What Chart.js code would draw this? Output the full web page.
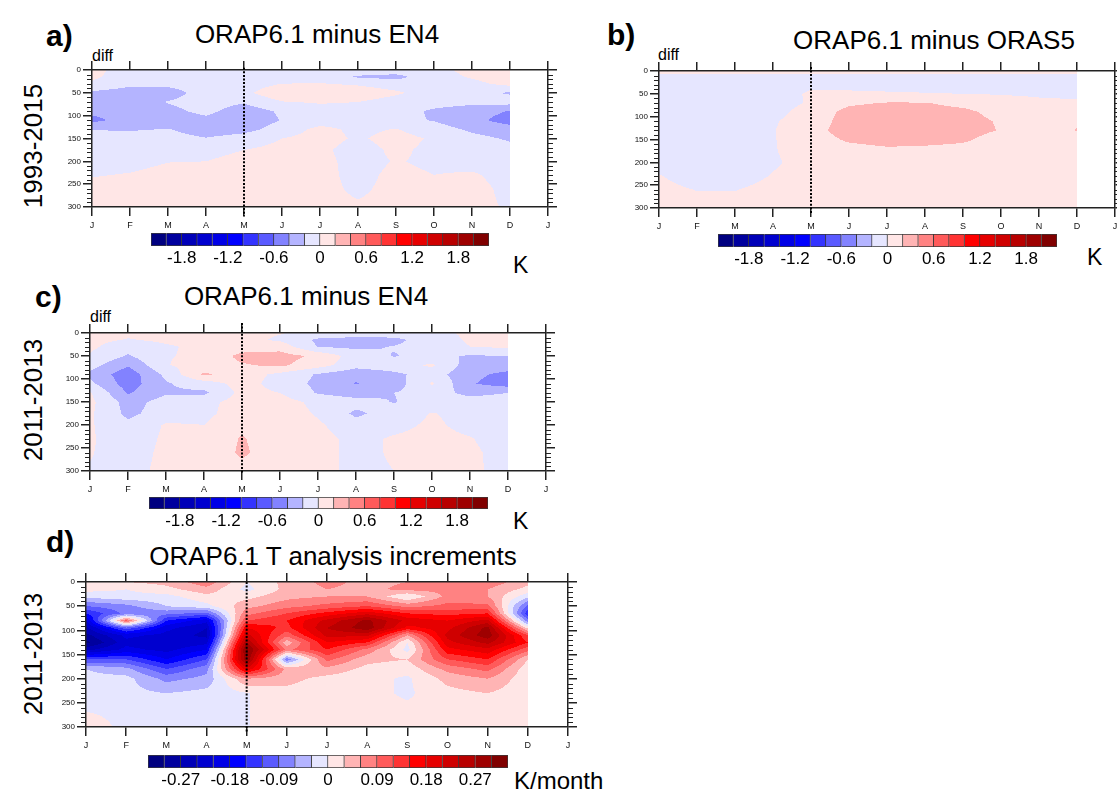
<!DOCTYPE html>
<html>
<head>
<meta charset="utf-8">
<title>ORAP6.1 temperature differences</title>
<script src="https://cdn.jsdelivr.net/npm/chart.js@4.4.1/dist/chart.umd.min.js"></script>
<style>
  body { margin: 0; background: #fff; }
  #page { position: relative; width: 1117px; height: 808px; overflow: hidden;
          font-family: "Liberation Sans", Arial, sans-serif; color: #000; }
  #page canvas { position: absolute; }
  .txt { position: absolute; white-space: nowrap; line-height: 1; }
  .tag { font-size: 30px; font-weight: bold; }
  .title { font-size: 26px; transform: translateX(-50%); }
  .diff { font-size: 16px; }
  .ytitle { font-size: 26px; transform: translate(-50%, -50%) rotate(-90deg); }
  .unit { font-size: 23px; }
</style>
</head>
<body>
<div id="page">
  <div class="txt tag" style="left:46px;top:21px">a)</div>
  <div class="txt title" style="left:317px;top:21px">ORAP6.1 minus EN4</div>
  <div class="txt diff" style="left:92px;top:48px">diff</div>
  <div class="txt ytitle" style="left:33px;top:146px">1993-2015</div>
  <div class="txt unit" style="left:513px;top:254px">K</div>

  <div class="txt tag" style="left:607px;top:20px">b)</div>
  <div class="txt title" style="left:934px;top:27px">ORAP6.1 minus ORAS5</div>
  <div class="txt diff" style="left:658px;top:47px">diff</div>
  <div class="txt unit" style="left:1087px;top:246px">K</div>

  <div class="txt tag" style="left:35px;top:282px">c)</div>
  <div class="txt title" style="left:306px;top:283px">ORAP6.1 minus EN4</div>
  <div class="txt diff" style="left:90px;top:309px">diff</div>
  <div class="txt ytitle" style="left:33px;top:400px">2011-2013</div>
  <div class="txt unit" style="left:513px;top:510px">K</div>

  <div class="txt tag" style="left:46px;top:527px">d)</div>
  <div class="txt title" style="left:333px;top:543px">ORAP6.1 T analysis increments</div>
  <div class="txt ytitle" style="left:33px;top:654px">2011-2013</div>
  <div class="txt unit" style="left:514px;top:769px;font-size:24px">K/month</div>
</div>
<script>
// x axis: Jan .. Dec plus the following Jan
const monthLetters = ['J', 'F', 'M', 'A', 'M', 'J', 'J', 'A', 'S', 'O', 'N', 'D', 'J'];
const mayIndex = 4;

// depth levels (m) of the gridded fields
const depthsDiff = [0, 15, 30, 50, 70, 90, 110, 130, 150, 175, 200, 230, 260, 300];
const depthsIncr = [0, 15, 30, 50, 65, 80, 95, 110, 125, 140, 160, 180, 200, 230, 260, 300];

// contour levels and labelbar labels
const levelsDiff = [-2.0, -1.8, -1.6, -1.4, -1.2, -1.0, -0.8, -0.6, -0.4, -0.2, 0,
                    0.2, 0.4, 0.6, 0.8, 1.0, 1.2, 1.4, 1.6, 1.8, 2.0];
const levelsIncr = [-0.30, -0.27, -0.24, -0.21, -0.18, -0.15, -0.12, -0.09, -0.06, -0.03, 0,
                    0.03, 0.06, 0.09, 0.12, 0.15, 0.18, 0.21, 0.24, 0.27, 0.30];
const labelsDiff = [-1.8, -1.2, -0.6, 0, 0.6, 1.2, 1.8];
const labelsIncr = [-0.27, -0.18, -0.09, 0, 0.09, 0.18, 0.27];

// blue-white-red fill colours, one per interval
const palette = [
  '#000080', '#00009e', '#0000b8', '#0000cf', '#0000e6', '#0000ff',
  '#3333ff', '#5a5aff', '#8282ff', '#b4b4ff', '#e6e6ff',
  '#ffe6e6', '#ffb4b4', '#ff8282', '#ff5a5a', '#ff3333',
  '#ff0000', '#e60000', '#cf0000', '#b80000', '#9e0000', '#800000'
];

// rows = depthsDiff, columns = Jan..Dec  (K)
// a) ORAP6.1 minus EN4, 1993-2015
const diffEn4Long = [
  [ 0.08, -0.13, -0.02, -0.05, -0.08, -0.10, -0.10, -0.10, -0.10, -0.05,  0.05,  0.10],
  [ 0.04, -0.12, -0.10, -0.10, -0.10, -0.08, -0.10, -0.22, -0.26, -0.08,  0.02,  0.10],
  [-0.03, -0.15, -0.15, -0.12, -0.10,  0.00,  0.01, -0.03, -0.10, -0.10, -0.05,  0.06],
  [-0.24, -0.30, -0.28, -0.12, -0.05,  0.15,  0.15,  0.12,  0.03, -0.10, -0.14, -0.22],
  [-0.32, -0.33, -0.19, -0.12, -0.18, -0.01,  0.02,  0.00, -0.08, -0.12, -0.15, -0.12],
  [-0.35, -0.35, -0.25, -0.15, -0.30, -0.17, -0.08, -0.08, -0.12, -0.23, -0.30, -0.41],
  [-0.45, -0.32, -0.30, -0.25, -0.33, -0.19, -0.10, -0.08, -0.15, -0.21, -0.33, -0.50],
  [-0.21, -0.22, -0.19, -0.30, -0.26, -0.12,  0.06, -0.05,  0.01, -0.12, -0.23, -0.30],
  [-0.10, -0.10, -0.12, -0.19, -0.12,  0.00,  0.08, -0.03,  0.08, -0.03, -0.15, -0.22],
  [-0.08, -0.08, -0.07, -0.05,  0.00,  0.06,  0.04, -0.08,  0.04, -0.05, -0.10, -0.15],
  [-0.05, -0.05, -0.005, 0.00,  0.05,  0.08,  0.05, -0.06,  0.01, -0.03, -0.06, -0.10],
  [-0.01,  0.01,  0.05,  0.06,  0.08,  0.08,  0.05, -0.05,  0.04,  0.00,  0.02, -0.06],
  [ 0.05,  0.06,  0.07,  0.07,  0.08,  0.06,  0.05, -0.03,  0.05,  0.06,  0.05, -0.04],
  [ 0.05,  0.06,  0.07,  0.07,  0.08,  0.06,  0.05,  0.02,  0.05,  0.07,  0.05, -0.02]
];

// b) ORAP6.1 minus ORAS5, 1993-2015
const diffOras5 = [
  [ 0.05,  0.05,  0.05,  0.05,  0.05,  0.05,  0.05,  0.05,  0.05,  0.05,  0.05,  0.05],
  [-0.06, -0.06, -0.06, -0.06, -0.05, -0.06, -0.06, -0.06, -0.06, -0.06, -0.06, -0.06],
  [-0.08, -0.08, -0.08, -0.08, -0.04, -0.05, -0.06, -0.07, -0.08, -0.08, -0.08, -0.08],
  [-0.10, -0.10, -0.10, -0.10,  0.03,  0.03,  0.02,  0.01,  0.00, -0.01, -0.02, -0.03],
  [-0.10, -0.10, -0.10, -0.08,  0.02,  0.17,  0.21,  0.21,  0.14,  0.07,  0.03,  0.02],
  [-0.10, -0.10, -0.10, -0.06,  0.08,  0.26,  0.28,  0.28,  0.25,  0.13,  0.05,  0.08],
  [-0.10, -0.10, -0.09, -0.02,  0.10,  0.28,  0.29,  0.29,  0.27,  0.18,  0.06,  0.18],
  [-0.10, -0.10, -0.08, -0.01,  0.13,  0.29,  0.29,  0.29,  0.27,  0.19,  0.07,  0.21],
  [-0.10, -0.10, -0.08, -0.01,  0.10,  0.23,  0.27,  0.26,  0.23,  0.12,  0.06,  0.10],
  [-0.10, -0.10, -0.08, -0.01,  0.07,  0.12,  0.16,  0.15,  0.13,  0.07,  0.06,  0.06],
  [-0.08, -0.10, -0.09, -0.02,  0.06,  0.06,  0.06,  0.06,  0.06,  0.06,  0.06,  0.06],
  [ 0.01, -0.08, -0.07,  0.01,  0.06,  0.06,  0.06,  0.06,  0.06,  0.06,  0.06,  0.06],
  [ 0.05, -0.005, -0.005, 0.05, 0.06,  0.06,  0.06,  0.06,  0.06,  0.06,  0.06,  0.06],
  [ 0.06,  0.06,  0.06,  0.06,  0.06,  0.06,  0.06,  0.06,  0.06,  0.06,  0.06,  0.06]
];

// c) ORAP6.1 minus EN4, 2011-2013
const diffEn4Short = [
  [ 0.05,  0.03,  0.05,  0.06,  0.06,  0.01, -0.05, -0.10, -0.08, -0.05,  0.03,  0.06],
  [ 0.05, -0.01,  0.03,  0.05,  0.06, -0.03, -0.24, -0.27, -0.26, -0.08,  0.02,  0.06],
  [ 0.04, -0.12, -0.02,  0.04,  0.10,  0.12, -0.21, -0.24, -0.19, -0.10,  0.00,  0.03],
  [-0.02, -0.22, -0.01,  0.03,  0.26,  0.28,  0.16, -0.10, -0.21, -0.15, -0.22, -0.20],
  [-0.12, -0.38, -0.01,  0.08,  0.18,  0.24,  0.08, -0.12, -0.08,  0.03, -0.30, -0.30],
  [-0.25, -0.52, -0.15,  0.23,  0.10, -0.05, -0.22, -0.35, -0.25, -0.10, -0.35, -0.45],
  [-0.15, -0.50, -0.22, -0.10,  0.08, -0.08, -0.25, -0.41, -0.30,  0.02, -0.38, -0.50],
  [ 0.02, -0.42, -0.22, -0.24,  0.06,  0.00, -0.22, -0.30, -0.20, -0.12, -0.25, -0.20],
  [ 0.05, -0.28, -0.12, -0.06,  0.08,  0.08, -0.05, -0.12, -0.21, -0.10, -0.12, -0.12],
  [ 0.03, -0.25, -0.10, -0.05,  0.10,  0.10, -0.02, -0.24, -0.10,  0.01, -0.06, -0.10],
  [ 0.02, -0.15,  0.02,  0.00,  0.15,  0.05,  0.03, -0.12, -0.05,  0.03, -0.05, -0.10],
  [ 0.02, -0.10,  0.03,  0.02,  0.22,  0.05,  0.06, -0.05,  0.02,  0.05,  0.01, -0.08],
  [ 0.01, -0.08,  0.04,  0.02,  0.24,  0.05,  0.06, -0.05,  0.02,  0.06,  0.03, -0.06],
  [-0.01, -0.05,  0.04,  0.02,  0.12,  0.05,  0.06, -0.05,  0.00,  0.06,  0.03, -0.05]
];

// d) ORAP6.1 T analysis increments, 2011-2013 (K/month); rows = depthsIncr
const incrT = [
  [ 0.02,  0.03,  0.04,  0.08,  0.00,  0.04,  0.07,  0.05,  0.06,  0.08,  0.08,  0.04],
  [ 0.01,  0.00,  0.02,  0.05, -0.01,  0.04,  0.06,  0.05,  0.07,  0.07,  0.06,  0.02],
  [-0.02, -0.01, -0.01,  0.02,  0.02,  0.05,  0.06,  0.06,  0.00,  0.07,  0.06, -0.02],
  [-0.09, -0.07, -0.03, -0.01,  0.05,  0.08,  0.10,  0.12,  0.08,  0.10,  0.10, -0.10],
  [-0.15, -0.08, -0.08, -0.10,  0.08,  0.12,  0.16,  0.20,  0.15,  0.14,  0.15, -0.14],
  [-0.21,  0.10, -0.15, -0.20,  0.12,  0.15,  0.22,  0.28,  0.20,  0.18,  0.22, -0.08],
  [-0.25, -0.10, -0.20, -0.24,  0.18,  0.14,  0.24,  0.29,  0.17,  0.20,  0.28,  0.02],
  [-0.28, -0.20, -0.22, -0.25,  0.22,  0.10,  0.22,  0.22,  0.06,  0.22,  0.29,  0.12],
  [-0.31, -0.22, -0.24, -0.22,  0.27,  0.04,  0.18,  0.15,  0.00,  0.20,  0.25,  0.15],
  [-0.25, -0.20, -0.22, -0.18,  0.31,  0.08,  0.15,  0.08, -0.01,  0.17,  0.20,  0.10],
  [-0.12, -0.12, -0.18, -0.12,  0.30, -0.08,  0.10,  0.04,  0.03,  0.12,  0.15,  0.03],
  [-0.03, -0.05, -0.12, -0.07,  0.20,  0.05,  0.05,  0.02,  0.01,  0.07,  0.10,  0.01],
  [-0.02, -0.02, -0.07, -0.05,  0.06,  0.04,  0.02,  0.01, -0.005, 0.04,  0.06,  0.01],
  [-0.01, -0.02, -0.03, -0.02, -0.002, 0.02,  0.01,  0.01, -0.005, 0.02,  0.03,  0.01],
  [-0.005, -0.01, -0.02, -0.015, -0.002, 0.02, 0.01,  0.01,  0.005, 0.01,  0.015, 0.01],
  [ 0.02, -0.01, -0.01, -0.01, -0.002, 0.02,  0.01,  0.01,  0.01,  0.01,  0.01,  0.01]
];

const axisColor = '#222';
Chart.defaults.font.family = '"Liberation Sans", Arial, sans-serif';

const page = document.getElementById('page');

function addCanvas(left, top, width, height) {
  const c = document.createElement('canvas');
  c.width = width;
  c.height = height;
  c.style.left = left + 'px';
  c.style.top = top + 'px';
  c.style.width = width + 'px';
  c.style.height = height + 'px';
  page.appendChild(c);
  return c;
}

function binIndex(v, levels) {
  let k = 0;
  while (k < levels.length && v >= levels[k]) k++;
  return k;
}

// bilinear value of a depth x month grid
function sampleGrid(grid, depths, m, d) {
  const last = grid[0].length - 1;
  const i = Math.max(0, Math.min(Math.floor(m), last - 1));
  const fx = Math.max(0, Math.min(m - i, 1));
  let j = 0;
  while (j < depths.length - 2 && d > depths[j + 1]) j++;
  const fy = Math.max(0, Math.min((d - depths[j]) / (depths[j + 1] - depths[j]), 1));
  const top = grid[j][i] * (1 - fx) + grid[j][i + 1] * fx;
  const bot = grid[j + 1][i] * (1 - fx) + grid[j + 1][i + 1] * fx;
  return top * (1 - fy) + bot * fy;
}

// filled contours, painted under the axes from the chart's own scales
function fieldPlugin(panel) {
  return {
    id: 'field',
    beforeDraw(chart) {
      const { ctx, chartArea } = chart;
      const x = chart.scales.x, y = chart.scales.y;
      const last = panel.grid[0].length - 1;
      const x0 = Math.round(chartArea.left);
      const x1 = Math.round(x.getPixelForValue(last));
      const y0 = Math.round(chartArea.top);
      const y1 = Math.round(chartArea.bottom);
      const monthAt = [];
      for (let px = x0; px < x1; px++) monthAt.push(x.getValueForPixel(px + 0.5));
      ctx.save();
      for (let py = y0; py < y1; py++) {
        const d = y.getValueForPixel(py + 0.5);
        let runStart = x0, runColor = null;
        for (let px = x0; px <= x1; px++) {
          const color = px < x1
            ? palette[binIndex(sampleGrid(panel.grid, panel.depths, monthAt[px - x0], d), panel.levels)]
            : null;
          if (color !== runColor) {
            if (runColor) {
              ctx.fillStyle = runColor;
              ctx.fillRect(runStart, py, px - runStart, 1);
            }
            runColor = color;
            runStart = px;
          }
        }
      }
      ctx.restore();
    }
  };
}

// short depth ticks every 10 m on both vertical axes
const minorTicks = {
  id: 'minorTicks',
  afterDraw(chart) {
    const { ctx, chartArea } = chart;
    const y = chart.scales.y;
    ctx.save();
    ctx.strokeStyle = axisColor;
    ctx.lineWidth = 1;
    ctx.beginPath();
    for (let d = y.min + 10; d < y.max; d += 10) {
      if (d % 50 === 0) continue;
      const py = Math.round(y.getPixelForValue(d)) + 0.5;
      ctx.moveTo(chartArea.left - 5, py);
      ctx.lineTo(chartArea.left, py);
      ctx.moveTo(chartArea.right, py);
      ctx.lineTo(chartArea.right + 5, py);
    }
    ctx.stroke();
    ctx.restore();
  }
};

function gridOpts() {
  return { drawOnChartArea: false, tickLength: 9, color: axisColor, lineWidth: 1.5 };
}
function borderOpts() {
  return { color: axisColor, width: 1.5 };
}

function drawPanel(p) {
  const [left, top, w, h] = p.plot;
  const m = { left: 40, top: 14, right: 14, bottom: 28 };
  const canvas = addCanvas(left - m.left, top - m.top, w + m.left + m.right, h + m.top + m.bottom);
  new Chart(canvas, {
    type: 'scatter',
    data: {
      datasets: [{
        data: [{ x: mayIndex, y: p.dotted[0] }, { x: mayIndex, y: p.dotted[1] }],
        showLine: true,
        borderColor: '#000',
        borderWidth: 2,
        borderDash: [2, 1.6],
        pointRadius: 0,
        clip: false
      }]
    },
    options: {
      responsive: false,
      animation: false,
      events: [],
      layout: { padding: 0, autoPadding: false },
      plugins: { legend: { display: false }, tooltip: { enabled: false } },
      scales: {
        x: {
          type: 'linear', position: 'bottom', min: 0, max: 12,
          ticks: { stepSize: 1, autoSkip: false, maxRotation: 0, padding: 4, color: '#111',
                   font: { size: 9 }, callback: (v, i) => monthLetters[i] },
          grid: gridOpts(), border: borderOpts(),
          afterFit: s => { s.height = m.bottom; }
        },
        xTop: {
          type: 'linear', position: 'top', min: 0, max: 12,
          ticks: { stepSize: 1, display: false },
          grid: gridOpts(), border: borderOpts(),
          afterFit: s => { s.height = m.top; }
        },
        y: {
          type: 'linear', position: 'left', reverse: true, min: 0, max: 300,
          ticks: { stepSize: 50, padding: 2, color: '#111', font: { size: 8 } },
          grid: gridOpts(), border: borderOpts(),
          afterFit: s => { s.width = m.left; }
        },
        yRight: {
          type: 'linear', position: 'right', reverse: true, min: 0, max: 300,
          ticks: { stepSize: 50, display: false },
          grid: gridOpts(), border: borderOpts(),
          afterFit: s => { s.width = m.right; }
        }
      }
    },
    plugins: [fieldPlugin(p), minorTicks]
  });
}

function drawColorbar(cb) {
  const [left, top, w, h] = cb.rect;
  const pad = 26, below = 26;
  const canvas = addCanvas(left - pad, top, w + 2 * pad, h + below);
  const step = cb.levels[1] - cb.levels[0];
  const edges = [cb.levels[0] - step, ...cb.levels, cb.levels[cb.levels.length - 1] + step];
  new Chart(canvas, {
    type: 'bar',
    data: {
      labels: [''],
      datasets: palette.map((c, i) => ({
        data: [[edges[i], edges[i + 1]]],
        backgroundColor: c,
        borderColor: '#3a3a3a',
        borderWidth: { top: 1, bottom: 1, left: i === 0 ? 1 : 0, right: 1 },
        borderSkipped: false,
        grouped: false,
        barPercentage: 1,
        categoryPercentage: 1
      }))
    },
    options: {
      indexAxis: 'y',
      responsive: false,
      animation: false,
      events: [],
      layout: { padding: { left: pad, right: pad }, autoPadding: false },
      plugins: { legend: { display: false }, tooltip: { enabled: false } },
      scales: {
        x: {
          type: 'linear', min: edges[0], max: edges[edges.length - 1],
          afterBuildTicks: s => { s.ticks = cb.labels.map(v => ({ value: v })); },
          ticks: { autoSkip: false, maxRotation: 0, padding: 2, color: '#000',
                   font: { size: 17 }, callback: v => String(v) },
          grid: { display: false, drawTicks: false },
          border: { display: false },
          afterFit: s => { s.height = below; }
        },
        y: { display: false }
      }
    }
  });
}

const panels = [
  { plot: [92, 70, 456, 137], grid: diffEn4Long, depths: depthsDiff, levels: levelsDiff, dotted: [-5, 321] },
  { plot: [659, 71, 456, 137], grid: diffOras5, depths: depthsDiff, levels: levelsDiff, dotted: [-9, 311] },
  { plot: [90, 333, 456, 138], grid: diffEn4Short, depths: depthsDiff, levels: levelsDiff, dotted: [-22, 306] },
  { plot: [86, 582, 482, 145], grid: incrT, depths: depthsIncr, levels: levelsIncr, dotted: [0, 310] }
];

const colorbars = [
  { rect: [151, 233, 338, 13], levels: levelsDiff, labels: labelsDiff },
  { rect: [718, 234, 339, 13], levels: levelsDiff, labels: labelsDiff },
  { rect: [149, 497, 339, 12], levels: levelsDiff, labels: labelsDiff },
  { rect: [148, 755, 360, 13], levels: levelsIncr, labels: labelsIncr }
];

panels.forEach(drawPanel);
colorbars.forEach(drawColorbar);
</script>
</body>
</html>
